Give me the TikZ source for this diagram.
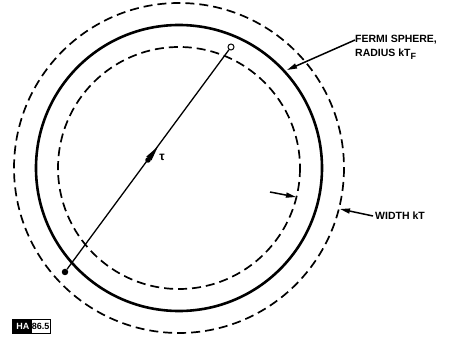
\documentclass[tikz,border=0pt]{standalone}
\usepackage{fontspec}
\setmainfont{Liberation Sans}
\usetikzlibrary{arrows.meta}
\begin{document}
\begin{tikzpicture}[x=1pt,y=-1pt,
  dashcirc/.style={line width=1.7pt,dash pattern=on 9pt off 5pt},
  solidcirc/.style={line width=2.6pt},
  lbl/.style={font=\bfseries\fontsize{10.5}{14}\selectfont,inner sep=0pt,align=left},
  leader/.style={line width=1.5pt,-{Triangle[length=10pt,width=5pt]}}]
\useasboundingbox (0,0) rectangle (451,337);
\coordinate (c) at (179,168);
\draw[dashcirc] (c) circle[radius=165];
\draw[solidcirc] (c) circle[radius=143];
\draw[dashcirc] (c) circle[radius=121];
% tau vector
\node[circle,fill=black,inner sep=0pt,minimum size=6.5pt] (a) at (65,272) {};
\node[circle,draw=black,fill=white,line width=1pt,inner sep=0pt,minimum size=6pt] (b) at (231,47) {};
\draw[line width=1.3pt] (a) -- (b);
\coordinate (m) at (147,161);
\coordinate (mt) at (158,146.5);
\draw[line width=1.3pt,-{Triangle[length=15pt,width=6pt]}] (m) -- (mt);
\node[circle,fill=black,inner sep=0pt,minimum size=5.5pt] (md) at (148,160) {};
\node[font=\bfseries\fontsize{12}{12}\selectfont,inner sep=0pt] (tau) at (162,157) {τ};
% Fermi sphere label
\node[lbl,anchor=north west] (fermi) at (355,35) {FERMI SPHERE,\\RADIUS kT\raisebox{-0.45ex}{\fontsize{9}{9}\selectfont F}};
\coordinate (fs) at (287,70);
\draw[leader] (fermi.west |- 0,40) -- (fs);
% width label
\node[lbl,anchor=west] (width) at (375,216) {WIDTH kT};
\coordinate (w1s) at (270,192);
\coordinate (w1e) at (296,197);
\coordinate (w2e) at (340,209);
\draw[leader] (w1s) -- (w1e);
\draw[leader] (width.west) ++(-2,0) coordinate (w2s) (w2s) -- (w2e);
% tag
\node[draw,line width=1.3pt,inner sep=0.8pt,anchor=south west,font=\bfseries\fontsize{9}{9}\selectfont] (tag) at (12,334) {\colorbox{black}{\color{white}HA}\hspace{-2pt}\,86.5};
\end{tikzpicture}
\end{document}
